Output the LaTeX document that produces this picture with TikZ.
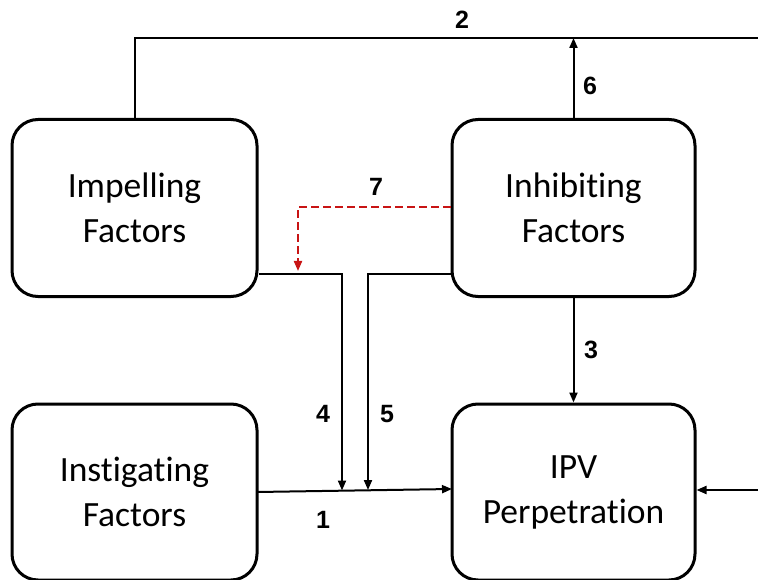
\documentclass[tikz,border=0pt]{standalone}
\usepackage{fontspec}
\setmainfont[Ligatures=NoCommon,RawFeature={-liga;-dlig}]{Carlito}
\newfontfamily\numfont{Liberation Sans}
\usetikzlibrary{arrows.meta}
\definecolor{dashred}{RGB}{200,20,20}
\begin{document}
\begin{tikzpicture}[x=1pt,y=-1pt,
  factorbox/.style={draw=black,line width=3pt,rounded corners=26pt,
    minimum width=245pt,minimum height=177pt,align=center,
    font=\fontsize{35.5}{45}\selectfont,inner sep=0pt},
  conn/.style={draw=black,line width=2pt},
  tip/.style={-{Triangle[length=10pt,width=8pt]}},
  numlabel/.style={font=\numfont\bfseries\fontsize{25}{28}\selectfont,inner sep=0pt}]
\useasboundingbox (0,0) rectangle (758,580);
\node[factorbox] (imp) at (134.5,208) {Impelling\\Factors};
\node[factorbox,minimum width=243pt] (inh) at (573.5,208) {Inhibiting\\Factors};
\node[factorbox,minimum height=176pt] (ins) at (134.5,492) {Instigating\\Factors};
\node[factorbox,minimum width=243pt,minimum height=176pt] (ipv) at (573.5,492) {IPV\\Perpetration};
\coordinate (topL) at (134.5,38);
\coordinate (topR) at (758,38);
\coordinate (inR) at (758,490);
\coordinate (c4) at (342,274);
\coordinate (c5) at (368,274);
\coordinate (j1) at (257,492);
\coordinate (j2) at (452,489);
\coordinate (c7) at (298,207);
% 2
\draw[conn] (imp.north) -- (topL) -- (topR);
\draw[conn,tip] (inR) -- (ipv.east |- inR);
% 6
\draw[conn,tip] (inh.north) -- (inh.north |- topR);
% 3
\draw[conn,tip] (inh.south) -- (ipv.north);
% 1
\draw[conn,tip] (j1) -- (j2);
% 4
\draw[conn,tip] (imp.east |- c4) -- (c4) -- (342,490.5);
% 5
\draw[conn,tip] (inh.west |- c5) -- (c5) -- (368,490);
% 7
\draw[dashred,line width=2pt,dash pattern=on 8pt off 4pt,tip] (inh.west |- c7) -- (c7) -- (298,271);
% labels
\node[numlabel] (l2) at (462,20) {2};
\node[numlabel] (l6) at (590,86) {6};
\node[numlabel] (l7) at (376,187) {7};
\node[numlabel] (l3) at (591,350) {3};
\node[numlabel] (l4) at (323,414) {4};
\node[numlabel] (l5) at (387,414) {5};
\node[numlabel] (l1) at (323,520) {1};
\end{tikzpicture}
\end{document}
